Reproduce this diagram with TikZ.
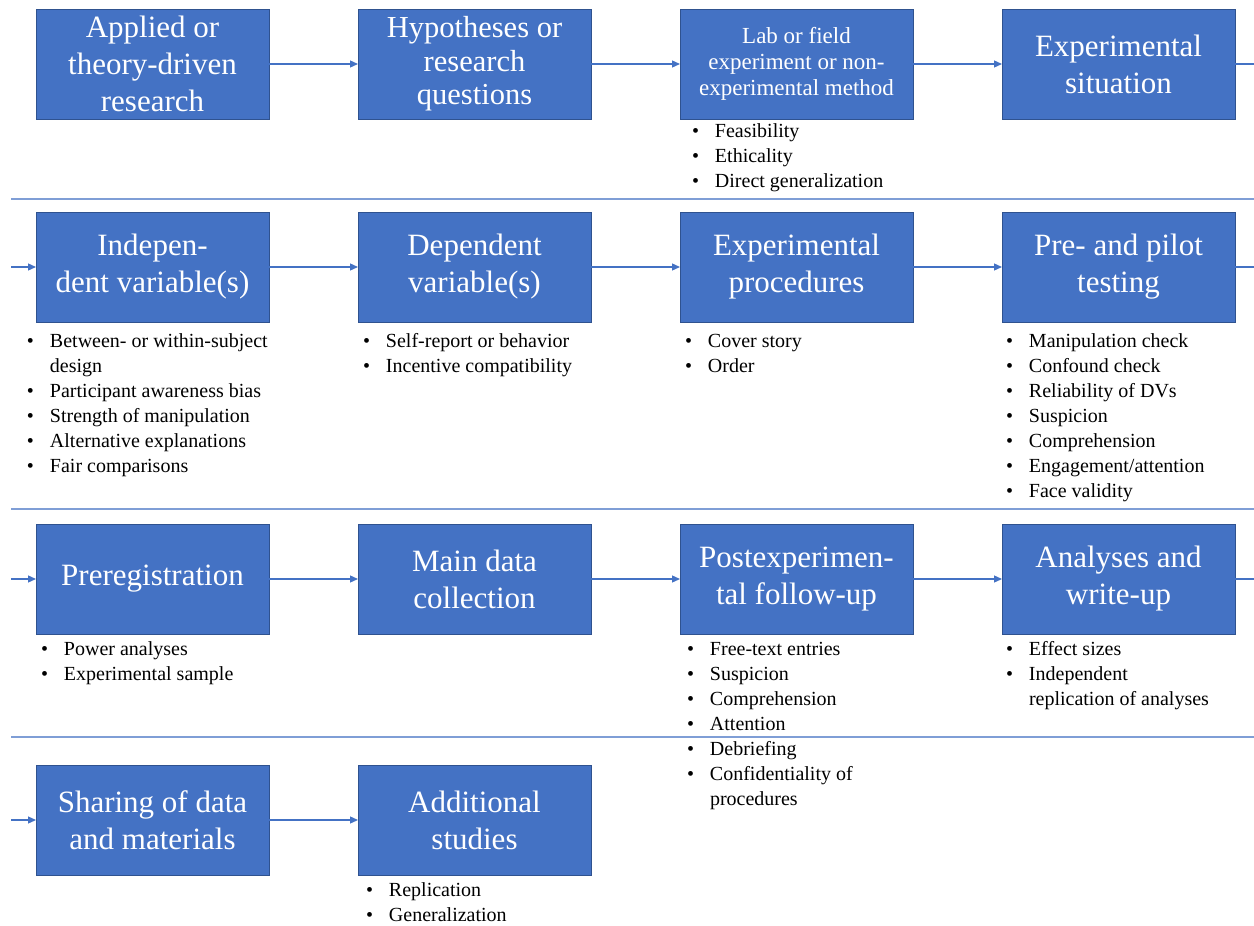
\documentclass[tikz,border=0pt]{standalone}
\usepackage{fontspec}
\setmainfont{Liberation Serif}
\usetikzlibrary{arrows.meta}
\definecolor{boxblue}{HTML}{4472C4}
\definecolor{boxedge}{HTML}{2F528F}
\definecolor{sepblue}{HTML}{7F9ED6}
\newcommand{\bul}{\makebox[23pt][l]{\textbullet}}
\newcommand{\hang}{\hspace*{23pt}}
\begin{document}
\begin{tikzpicture}[x=1pt,y=-1pt,
  stage/.style={draw=boxedge, line width=0.8pt, fill=boxblue, minimum width=233pt,
    minimum height=110pt, inner sep=0pt, outer sep=0pt, text=white, align=center,
    font=\fontsize{31}{37}\selectfont, anchor=north west},
  stagesmall/.style={stage, font=\fontsize{23}{26}\selectfont},
  stagetight/.style={stage, font=\fontsize{30.5}{33.5}\selectfont},
  blist/.style={anchor=north west, inner sep=0pt, outer sep=0pt, align=left,
    font=\fontsize{20}{25}\selectfont},
  flow/.style={draw=boxblue, line width=1.3pt, -{Triangle[length=8pt,width=7pt]}},
  flowline/.style={draw=boxblue, line width=1.3pt},
  sepline/.style={draw=sepblue, line width=1.5pt}]
\useasboundingbox (0,0) rectangle (1254,926);

% separators
\coordinate (s1l) at (11,199); \coordinate (s1r) at (1254,199);
\coordinate (s2l) at (11,509); \coordinate (s2r) at (1254,509);
\coordinate (s3l) at (11,737); \coordinate (s3r) at (1254,737);
\draw[sepline] (s1l) -- (s1r);
\draw[sepline] (s2l) -- (s2r);
\draw[sepline] (s3l) -- (s3r);

% row 1
\node[stage] (a1) at (36,9) {Applied or\\theory-driven\\research};
\node[stagetight] (a2) at (358,9) {Hypotheses or\\research\\questions};
\node[stagesmall] (a3) at (680,9) {Lab or field\\experiment or non-\\experimental method};
\node[stage] (a4) at (1002,9) {Experimental\\situation};
% row 2
\node[stage] (b1) at (36,212) {Indepen-\\dent variable(s)};
\node[stage] (b2) at (358,212) {Dependent\\variable(s)};
\node[stage] (b3) at (680,212) {Experimental\\procedures};
\node[stage] (b4) at (1002,212) {Pre- and pilot\\testing};
% row 3
\node[stage] (c1) at (36,524) {Preregistration};
\node[stage] (c2) at (358,524) {Main data\\collection};
\node[stage] (c3) at (680,524) {Postexperimen-\\tal follow-up};
\node[stage] (c4) at (1002,524) {Analyses and\\write-up};
% row 4
\node[stage] (d1) at (36,765) {Sharing of data\\and materials};
\node[stage] (d2) at (358,765) {Additional\\studies};

% connectors
\draw[flow] (a1.east) -- (a2.west);
\draw[flow] (a2.east) -- (a3.west);
\draw[flow] (a3.east) -- (a4.west);
\coordinate (o1) at (1254,64);
\draw[flowline] (a4.east) -- (o1);

\coordinate (i2) at (11,267);
\draw[flow] (i2) -- (b1.west);
\draw[flow] (b1.east) -- (b2.west);
\draw[flow] (b2.east) -- (b3.west);
\draw[flow] (b3.east) -- (b4.west);
\coordinate (o2) at (1254,267);
\draw[flowline] (b4.east) -- (o2);

\coordinate (i3) at (11,579);
\draw[flow] (i3) -- (c1.west);
\draw[flow] (c1.east) -- (c2.west);
\draw[flow] (c2.east) -- (c3.west);
\draw[flow] (c3.east) -- (c4.west);
\coordinate (o3) at (1254,579);
\draw[flowline] (c4.east) -- (o3);

\coordinate (i4) at (11,820);
\draw[flow] (i4) -- (d1.west);
\draw[flow] (d1.east) -- (d2.west);

% bullet lists
\node[blist] (la3) at (692,120) {\strut\bul Feasibility\\\bul Ethicality\\\bul Direct generalization};
\node[blist] (lb1) at (27,329.5) {\strut\bul Between- or within-subject\\\hang design\\\bul Participant awareness bias\\\bul Strength of manipulation\\\bul Alternative explanations\\\bul Fair comparisons};
\node[blist] (lb2) at (363,329.5) {\strut\bul Self-report or behavior\\\bul Incentive compatibility};
\node[blist] (lb3) at (685,329.5) {\strut\bul Cover story\\\bul Order};
\node[blist] (lb4) at (1006,329.5) {\strut\bul Manipulation check\\\bul Confound check\\\bul Reliability of DVs\\\bul Suspicion\\\bul Comprehension\\\bul Engagement/attention\\\bul Face validity};
\node[blist] (lc1) at (41,637.5) {\strut\bul Power analyses\\\bul Experimental sample};
\node[blist] (lc3) at (687,637.5) {\strut\bul Free-text entries\\\bul Suspicion\\\bul Comprehension\\\bul Attention\\\bul Debriefing\\\bul Confidentiality of\\\hang procedures};
\node[blist] (lc4) at (1006,637.5) {\strut\bul Effect sizes\\\bul Independent\\\hang replication of analyses};
\node[blist] (ld2) at (366,879) {\strut\bul Replication\\\bul Generalization};
\end{tikzpicture}
\end{document}
